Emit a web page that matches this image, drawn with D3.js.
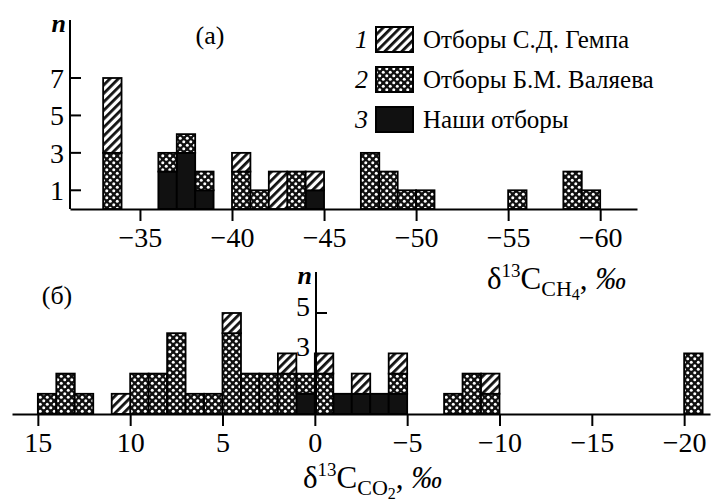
<!DOCTYPE html>
<html>
<head>
<meta charset="utf-8">
<script src="https://cdn.jsdelivr.net/npm/d3@7"></script>
<style>
  body { margin: 0; background: #fff; }
  svg text { font-family: "Liberation Serif", "DejaVu Serif", serif; fill: #000; }
  .axis path, .axis line { stroke: #000; stroke-width: 2; }
  .axis text { font-size: 28px; }
</style>
</head>
<body>
<div class="chart"></div>
<script>
'use strict'

// Series names (legend).
const seriesKeys = ['ours', 'valyaev', 'gempa'];
const legendNums = ['1', '2', '3'];
const legendLabels = ['Отборы С.Д. Гемпа', 'Отборы Б.М. Валяева', 'Наши отборы'];
const legendKeys = ['gempa', 'valyaev', 'ours'];

// (а) δ13C CH4: bins are 1 ‰ wide, from start down to start - 1.
const ch4Bins    = [-33, -36, -37, -38, -40, -41, -42, -43, -44, -47, -48, -49, -50, -55, -58, -59];
const ch4Gempa   = [  4,   0,   0,   0,   1,   0,   2,   0,   1,   0,   0,   0,   0,   0,   0,   0];
const ch4Valyaev = [  3,   1,   1,   1,   2,   1,   0,   2,   0,   3,   2,   1,   1,   1,   2,   1];
const ch4Ours    = [  0,   2,   3,   1,   0,   0,   0,   0,   1,   0,   0,   0,   0,   0,   0,   0];
const ch4Ticks = [-35, -40, -45, -50, -55, -60];
const ch4YTicks = [1, 3, 5, 7];

// (б) δ13C CO2
const co2Bins    = [15, 14, 13, 11, 10, 9, 8, 7, 6, 5, 4, 3, 2, 1, 0, -1, -2, -3, -4, -7, -8, -9, -20];
const co2Gempa   = [ 0,  0,  0,  1,  0, 0, 0, 0, 0, 1, 0, 0, 1, 0, 1,  0,  1,  0,  1,  0,  0,  1,  0];
const co2Valyaev = [ 1,  2,  1,  0,  2, 2, 4, 1, 1, 4, 2, 2, 2, 1, 2,  0,  0,  0,  1,  1,  2,  1,  3];
const co2Ours    = [ 0,  0,  0,  0,  0, 0, 0, 0, 0, 0, 0, 0, 0, 1, 0,  1,  1,  1,  1,  0,  0,  0,  0];
const co2Ticks = [15, 10, 5, 0, -5, -10, -15, -20];
const co2YTicks = [3, 5];

const width = 718, height = 501;
const fmt = d => d < 0 ? '\u2212' + Math.abs(d) : String(d);

const svg = d3.select('.chart')
    .append('svg')
    .attr('width', width)
    .attr('height', height);

// Fill patterns.
const defs = svg.append('defs');
let hatch = defs.append('pattern')
    .attr('id', 'hatch')
    .attr('patternUnits', 'userSpaceOnUse')
    .attr('width', 6).attr('height', 6)
    .attr('patternTransform', 'rotate(45)');
hatch.append('rect').attr('width', 6).attr('height', 6).attr('fill', '#fff');
hatch.append('rect').attr('width', 2.8).attr('height', 6).attr('fill', '#111');

let dots = defs.append('pattern')
    .attr('id', 'dots')
    .attr('patternUnits', 'userSpaceOnUse')
    .attr('width', 7).attr('height', 7);
dots.append('rect').attr('width', 7).attr('height', 7).attr('fill', '#111');
dots.append('circle').attr('cx', 1.75).attr('cy', 1.75).attr('r', 1.5).attr('fill', '#fff');
dots.append('circle').attr('cx', 5.25).attr('cy', 5.25).attr('r', 1.5).attr('fill', '#fff');

const fills = {gempa: 'url(#hatch)', valyaev: 'url(#dots)', ours: '#111'};

function toRows(bins, ours, valyaev, gempa) {
    return bins.map((b, i) => ({bin: b, ours: ours[i], valyaev: valyaev[i], gempa: gempa[i]}));
}

function panel(opt) {
    let x = d3.scaleLinear().domain(opt.xDomain).range(opt.xRange);
    let y = d3.scaleLinear().domain(opt.yDomain).range(opt.yRange);
    let g = svg.append('g');

    // Stacked bars.
    let stack = d3.stack().keys(seriesKeys)(opt.rows);
    g.append('g')
        .selectAll('g')
        .data(stack)
        .join('g')
        .attr('fill', d => fills[d.key])
        .selectAll('rect')
        .data(d => d.filter(s => s[1] > s[0]))
        .join('rect')
        .attr('x', d => x(d.data.bin))
        .attr('width', d => x(d.data.bin - 1) - x(d.data.bin))
        .attr('y', d => y(d[1]))
        .attr('height', d => y(d[0]) - y(d[1]))
        .attr('stroke', '#000')
        .attr('stroke-width', 1.8);

    // x axis.
    let xAxis = d3.axisBottom(x)
        .tickValues(opt.xTicks)
        .tickSize(12)
        .tickSizeOuter(0)
        .tickPadding(6)
        .tickFormat(fmt);
    g.append('g')
        .attr('class', 'axis')
        .attr('transform', `translate(0,${y(0)})`)
        .call(xAxis)
        .attr('font-family', null);

    // y axis.
    let x0 = opt.yAxisX;
    g.append('line')
        .attr('x1', x0).attr('x2', x0)
        .attr('y1', y(0)).attr('y2', opt.yTop)
        .attr('stroke', '#000').attr('stroke-width', 2);
    g.append('g')
        .selectAll('line')
        .data(opt.yTickMarks)
        .join('line')
        .attr('x1', x0).attr('x2', x0 + 11)
        .attr('y1', d => y(d)).attr('y2', d => y(d))
        .attr('stroke', '#000').attr('stroke-width', 2);
    g.append('g')
        .selectAll('text')
        .data(opt.yTicks)
        .join('text')
        .attr('x', x0 - 6)
        .attr('y', d => y(d))
        .attr('dy', opt.yLabelDy)
        .attr('text-anchor', 'end')
        .style('font-size', '28px')
        .text(d => d);
    g.append('text')
        .attr('x', x0 - 4)
        .attr('y', opt.yTop + 12)
        .attr('text-anchor', 'end')
        .style('font-size', '26px')
        .style('font-style', 'italic')
        .style('font-weight', 'bold')
        .text('n');
    return {x, y, g};
}

// Panel (а)
panel({
    rows: toRows(ch4Bins, ch4Ours, ch4Valyaev, ch4Gempa),
    xDomain: [-31.2, -62], xRange: [70, 637],
    yDomain: [0, 7], yRange: [209, 78],
    xTicks: ch4Ticks,
    yTicks: ch4YTicks, yTickMarks: ch4YTicks, yLabelDy: '0.35em',
    yAxisX: 70, yTop: 20
});

// Panel (б)
panel({
    rows: toRows(co2Bins, co2Ours, co2Valyaev, co2Gempa),
    xDomain: [16.4, -21.4], xRange: [12, 710],
    yDomain: [0, 5], yRange: [414, 313],
    xTicks: co2Ticks,
    yTicks: co2YTicks, yTickMarks: [5], yLabelDy: '0.1em',
    yAxisX: 316, yTop: 272
});

// Panel letters.
svg.append('text').attr('x', 210).attr('y', 44).attr('text-anchor', 'middle')
    .style('font-size', '26px').text('(а)');
svg.append('text').attr('x', 57).attr('y', 304).attr('text-anchor', 'middle')
    .style('font-size', '26px').text('(б)');

// Axis titles with super/subscripts.
function axisTitle(x, y, sub, subNum) {
    let t = svg.append('text').attr('x', x).attr('y', y).style('font-size', '31px');
    t.append('tspan').text('δ');
    t.append('tspan').attr('dy', -12).style('font-size', '19px').text('13');
    t.append('tspan').attr('dy', 12).text('C');
    t.append('tspan').attr('dy', 7).style('font-size', '22px').text(sub);
    t.append('tspan').attr('dy', 4).style('font-size', '16px').text(subNum);
    t.append('tspan').attr('dy', -11).text(', ');
    t.append('tspan').style('font-style', 'italic').text('‰');
}
axisTitle(487, 289, 'CH', '4');
axisTitle(303, 488, 'CO', '2');

// Legend.
let legend = svg.append('g')
    .selectAll('g')
    .data(legendKeys)
    .join('g')
    .attr('transform', (d, i) => `translate(0, ${27 + i * 40})`);
legend.append('text')
    .attr('x', 368).attr('y', 21)
    .attr('text-anchor', 'end')
    .style('font-size', '26px')
    .style('font-style', 'italic')
    .text((d, i) => legendNums[i]);
legend.append('rect')
    .attr('x', 376).attr('width', 37).attr('height', 25)
    .attr('fill', d => fills[d])
    .attr('stroke', '#000').attr('stroke-width', 2);
legend.append('text')
    .attr('x', 423).attr('y', 21)
    .style('font-size', '25px')
    .text((d, i) => legendLabels[i]);
</script>
</body>
</html>
